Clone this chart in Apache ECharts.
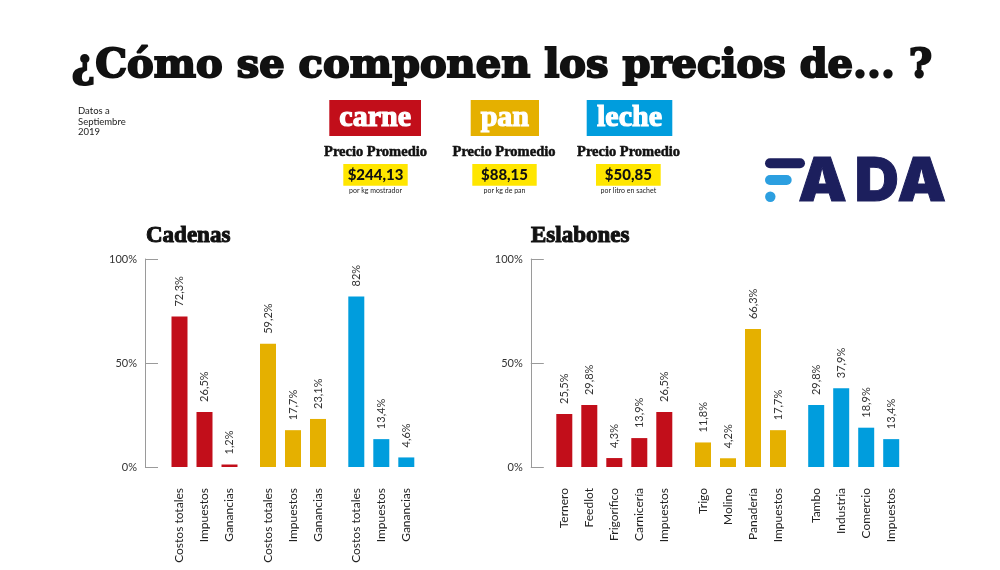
<!DOCTYPE html>
<html><head><meta charset="utf-8">
<script src="https://cdn.jsdelivr.net/npm/echarts@6/dist/echarts.min.js"></script>
<style>html,body{margin:0;padding:0;background:#fff}#c{width:1000px;height:570px}</style>
</head><body><div id="c"></div>
<script>
// ---- data ----
const yTicks = [0, 50, 100];
const cadenasCarneCats = ['Costos totales', 'Impuestos', 'Ganancias'];
const cadenasCarne = [72.3, 26.5, 1.2];
const cadenasPanCats = ['Costos totales', 'Impuestos', 'Ganancias'];
const cadenasPan = [59.2, 17.7, 23.1];
const cadenasLecheCats = ['Costos totales', 'Impuestos', 'Ganancias'];
const cadenasLeche = [82, 13.4, 4.6];
const eslCarneCats = ['Ternero', 'Feedlot', 'Frigorífico', 'Carnicería', 'Impuestos'];
const eslCarne = [25.5, 29.8, 4.3, 13.9, 26.5];
const eslPanCats = ['Trigo', 'Molino', 'Panadería', 'Impuestos'];
const eslPan = [11.8, 4.2, 66.3, 17.7];
const eslLecheCats = ['Tambo', 'Industria', 'Comercio', 'Impuestos'];
const eslLeche = [29.8, 37.9, 18.9, 13.4];
const products = ['carne', 'pan', 'leche'];
const prices = ['$244,13', '$88,15', '$50,85'];
const units = ['por kg mostrador', 'por kg de pan', 'por litro en sachet'];

// ---- styles ----
const RED = '#c20e1a', GOLD = '#e5b000', BLUE = '#009ddd';
const colors = [RED, GOLD, BLUE];
const SANS = 'Lato, "Open Sans", sans-serif';
const SERIF = '"DejaVu Serif", "Liberation Serif", serif';

const chart = echarts.init(document.getElementById('c'), null, {renderer: 'canvas'});

const groups = [
  {cats: cadenasCarneCats, vals: cadenasCarne, color: RED, left: 167, n: 3, axisOffset: 22},
  {cats: cadenasPanCats, vals: cadenasPan, color: GOLD, left: 255.5, n: 3},
  {cats: cadenasLecheCats, vals: cadenasLeche, color: BLUE, left: 343.8, n: 3},
  {cats: eslCarneCats, vals: eslCarne, color: RED, left: 551.8, n: 5, axisOffset: 21},
  {cats: eslPanCats, vals: eslPan, color: GOLD, left: 690.5, n: 4},
  {cats: eslLecheCats, vals: eslLeche, color: BLUE, left: 803.7, n: 4}
];
const SLOT = 25;
const grid = [], xAxis = [], yAxis = [], series = [];
groups.forEach((g, i) => {
  grid.push({left: g.left, top: 259, width: g.n * SLOT, height: 208, containLabel: false, outerBoundsMode: 'none'});
  xAxis.push({
    type: 'category', gridIndex: i, data: g.cats,
    axisLine: {show: false}, axisTick: {show: false},
    axisLabel: {rotate: 90, margin: 21, fontSize: 12, color: '#222', fontFamily: SANS, interval: 0}
  });
  const showAxis = g.axisOffset !== undefined;
  yAxis.push({
    type: 'value', gridIndex: i, min: 0, max: 100, interval: 50,
    offset: showAxis ? g.axisOffset : 0,
    splitLine: {show: false},
    axisLine: {show: showAxis, lineStyle: {color: '#9a9a9a', width: 1}},
    axisTick: {show: showAxis, inside: true, length: 13, lineStyle: {color: '#9a9a9a'}},
    axisLabel: {show: showAxis, margin: 8, fontSize: 11, color: '#333', fontFamily: SANS,
      formatter: v => yTicks.includes(v) ? v + '%' : ''}
  });
  series.push({
    type: 'bar', xAxisIndex: i, yAxisIndex: i, data: g.vals, barWidth: 16,
    itemStyle: {color: g.color}, animation: false,
    label: {show: true, position: 'top', rotate: 90, align: 'left', verticalAlign: 'middle', distance: 10,
      fontSize: 11, color: '#333', fontFamily: SANS,
      formatter: p => String(p.value).replace('.', ',') + '%'}
  });
});

// header graphics
const graphic = [];
graphic.push({type: 'text', x: 502, y: 67, style: {text: '¿Cómo se componen los precios de... ?', font: 'bold 40px ' + SERIF, fill: '#111', stroke: '#111', lineWidth: 2, align: 'center', verticalAlign: 'middle'}});
graphic.push({type: 'text', x: 78, y: 106, style: {text: 'Datos a\nSeptiembre\n2019', font: '9.5px ' + SANS, fill: '#222', lineHeight: 10.3, align: 'left', verticalAlign: 'top'}});
const boxX = [[329.3, 421], [470.7, 539], [586.7, 672.3]];
const centers = [375.5, 504, 628.5];
const ybox = [[343.3, 407.7], [472.3, 536.7], [596, 660.7]];
products.forEach((p, i) => {
  graphic.push({type: 'rect', shape: {x: boxX[i][0], y: 100, width: boxX[i][1] - boxX[i][0], height: 36}, style: {fill: colors[i]}});
  graphic.push({type: 'text', x: (boxX[i][0] + boxX[i][1]) / 2, y: 118, style: {text: p, font: 'bold 30px "Liberation Serif", serif', fill: '#fff', stroke: '#fff', lineWidth: 1.2, align: 'center', verticalAlign: 'middle'}});
  graphic.push({type: 'text', x: centers[i], y: 152.5, style: {text: 'Precio Promedio', font: 'bold 14.5px "Liberation Serif", serif', fill: '#111', stroke: '#111', lineWidth: 0.5, align: 'center', verticalAlign: 'middle'}});
  graphic.push({type: 'rect', shape: {x: ybox[i][0], y: 164, width: ybox[i][1] - ybox[i][0], height: 21.7}, style: {fill: '#ffe600'}});
  graphic.push({type: 'text', x: (ybox[i][0] + ybox[i][1]) / 2, y: 175, style: {text: prices[i], font: '900 15px ' + SANS, fill: '#111', align: 'center', verticalAlign: 'middle'}});
  graphic.push({type: 'text', x: (ybox[i][0] + ybox[i][1]) / 2, y: 191, style: {text: units[i], font: '7px ' + SANS, fill: '#222', align: 'center', verticalAlign: 'middle'}});
});
// section titles
graphic.push({type: 'text', x: 146, y: 236, style: {text: 'Cadenas', font: 'bold 23px "Liberation Serif", serif', fill: '#111', stroke: '#111', lineWidth: 1, align: 'left', verticalAlign: 'middle'}});
graphic.push({type: 'text', x: 531, y: 236, style: {text: 'Eslabones', font: 'bold 23px "Liberation Serif", serif', fill: '#111', stroke: '#111', lineWidth: 1, align: 'left', verticalAlign: 'middle'}});
// FADA logo
const NAVY = '#1c1f5d', LBLUE = '#2c9fe0';
graphic.push({type: 'rect', shape: {x: 765, y: 158.3, width: 40, height: 10, r: 5}, style: {fill: NAVY}});
graphic.push({type: 'rect', shape: {x: 765, y: 175, width: 26.7, height: 10, r: 5}, style: {fill: LBLUE}});
graphic.push({type: 'circle', shape: {cx: 770.3, cy: 196.7, r: 5.2}, style: {fill: LBLUE}});
[['A', 822.5], ['D', 876.7], ['A', 921.7]].forEach(([t, x]) => {
  graphic.push({type: 'text', x: x, y: 182.5, style: {text: t, font: '900 61px Inter, Lato, sans-serif', fill: NAVY, stroke: NAVY, lineWidth: 1, align: 'center', verticalAlign: 'middle'}});
});

chart.setOption({animation: false, grid, xAxis, yAxis, series, graphic});
</script></body></html>
